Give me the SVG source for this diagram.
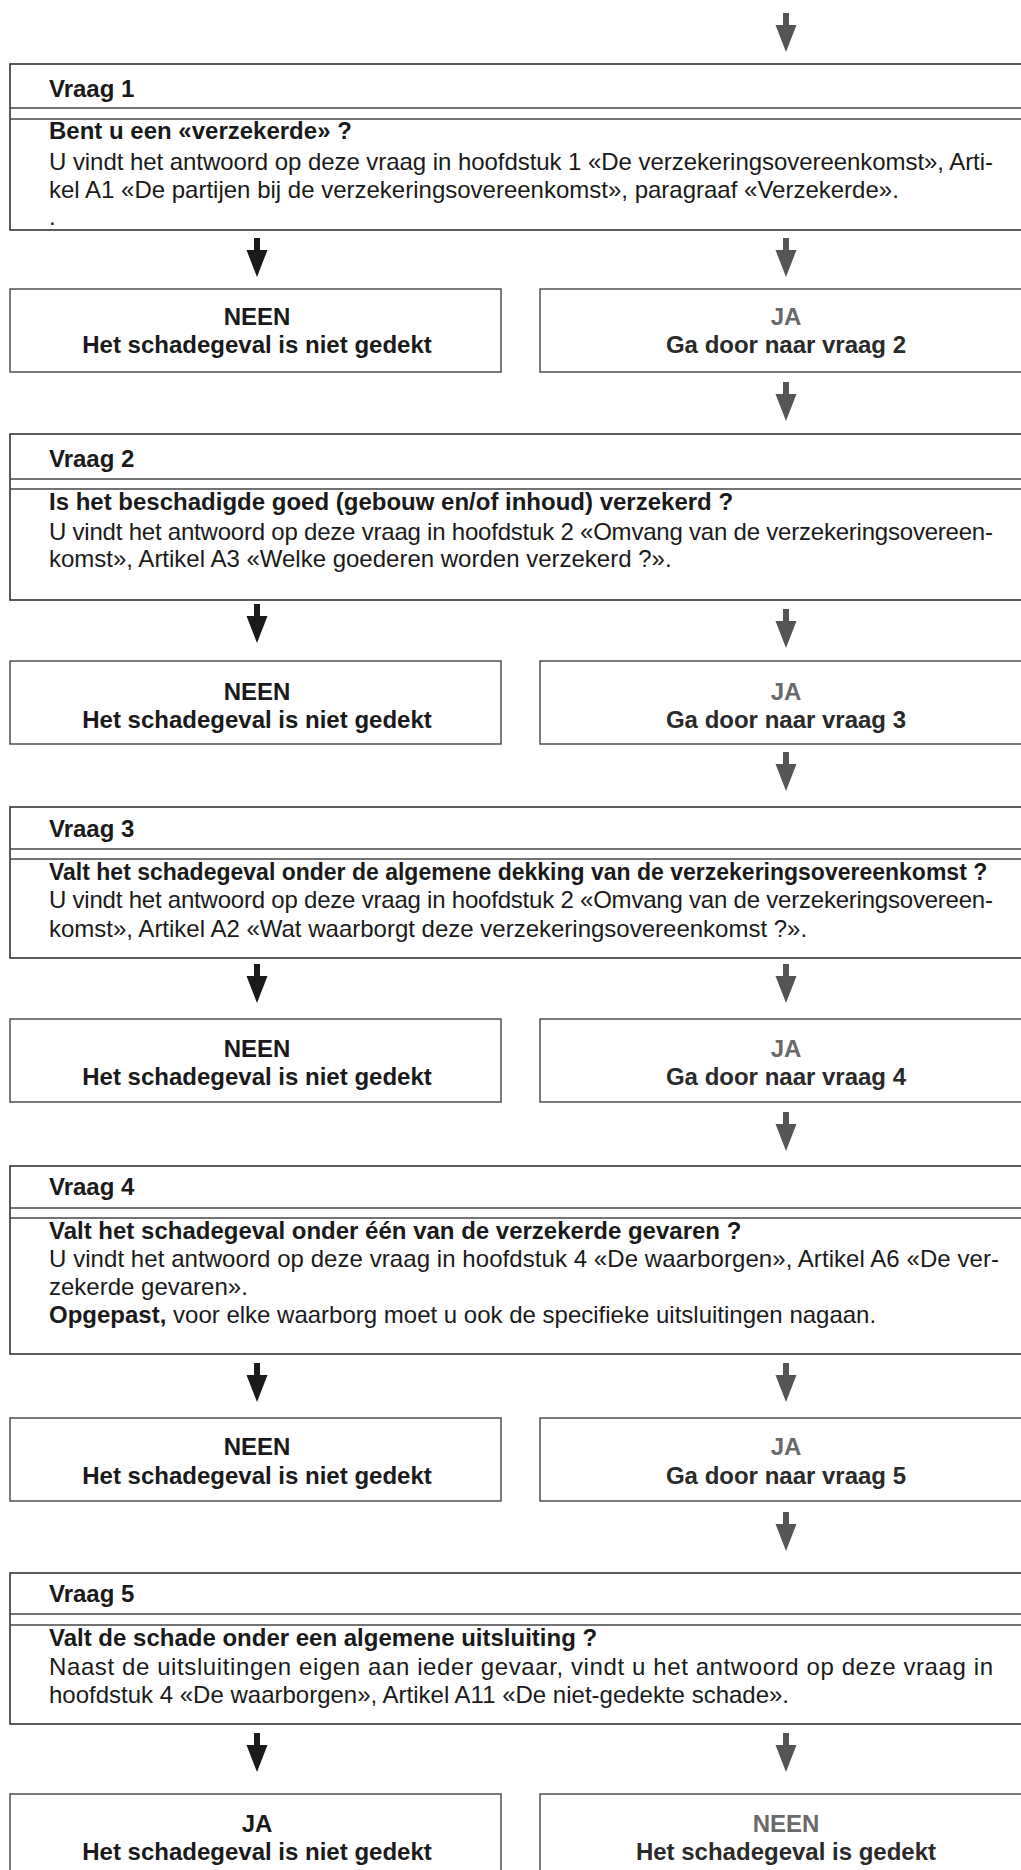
<svg xmlns="http://www.w3.org/2000/svg" xmlns:xlink="http://www.w3.org/1999/xlink" width="1021" height="1870" viewBox="0 0 1021 1870">
<style>
text{font-family:"Liberation Sans",Arial,sans-serif;font-size:24px;fill:#1a1a1a}
.b{font-weight:bold}
.c{text-anchor:middle}
.g{fill:#6a6a6a}
.d{fill:#2a2a2a}
.box{fill:#fff;stroke:#333;stroke-width:1.6}
.abox{fill:#fff;stroke:#444;stroke-width:1.4}
.div{stroke:#444;stroke-width:1.6}
.al{fill:#1a1a1a}
.ar{fill:#555}
</style>
<defs>
<path id="arr" d="M-3,0 h6 v12 h7.5 L0,39 L-10.5,12 h7.5 z"/>
</defs>
<rect width="1021" height="1870" fill="#fff"/>

<g id="connectors">
<use xlink:href="#arr" x="786" y="13" class="ar"/>
<use xlink:href="#arr" x="257" y="238" class="al"/>
<use xlink:href="#arr" x="786" y="238" class="ar"/>
<use xlink:href="#arr" x="786" y="382" class="ar"/>
<use xlink:href="#arr" x="257" y="604" class="al"/>
<use xlink:href="#arr" x="786" y="609" class="ar"/>
<use xlink:href="#arr" x="786" y="752" class="ar"/>
<use xlink:href="#arr" x="257" y="964" class="al"/>
<use xlink:href="#arr" x="786" y="964" class="ar"/>
<use xlink:href="#arr" x="786" y="1112" class="ar"/>
<use xlink:href="#arr" x="257" y="1363" class="al"/>
<use xlink:href="#arr" x="786" y="1363" class="ar"/>
<use xlink:href="#arr" x="786" y="1512" class="ar"/>
<use xlink:href="#arr" x="257" y="1733" class="al"/>
<use xlink:href="#arr" x="786" y="1733" class="ar"/>
</g>

<g id="vraag1">
<rect class="box" x="10" y="64" width="1030" height="166"/>
<line class="div" x1="10" y1="108" x2="1030" y2="108"/>
<line class="div" x1="10" y1="119" x2="1030" y2="119"/>
<text class="b" x="49" y="97">Vraag 1</text>
<text class="b" x="49" y="139">Bent u een «verzekerde» ?</text>
<text x="49" y="170" textLength="944" lengthAdjust="spacing">U vindt het antwoord op deze vraag in hoofdstuk 1 «De verzekeringsovereenkomst», Arti-</text>
<text x="49" y="198">kel A1 «De partijen bij de verzekeringsovereenkomst», paragraaf «Verzekerde».</text>
<text x="49" y="225">.</text>
</g>

<g id="neen1">
<rect class="abox" x="10" y="289" width="491" height="83"/>
<text class="b c" x="257" y="325">NEEN</text>
<text class="b c" x="257" y="353">Het schadegeval is niet gedekt</text>
</g>
<g id="ja1">
<rect class="abox" x="540" y="289" width="500" height="83"/>
<text class="b c g" x="786" y="325">JA</text>
<text class="b c d" x="786" y="353">Ga door naar vraag 2</text>
</g>

<g id="vraag2">
<rect class="box" x="10" y="434" width="1030" height="166"/>
<line class="div" x1="10" y1="479" x2="1030" y2="479"/>
<line class="div" x1="10" y1="489" x2="1030" y2="489"/>
<text class="b" x="49" y="467">Vraag 2</text>
<text class="b" x="49" y="510">Is het beschadigde goed (gebouw en/of inhoud) verzekerd ?</text>
<text x="49" y="540" textLength="944" lengthAdjust="spacing">U vindt het antwoord op deze vraag in hoofdstuk 2 «Omvang van de verzekeringsovereen-</text>
<text x="49" y="567">komst», Artikel A3 «Welke goederen worden verzekerd ?».</text>
</g>

<g id="neen2">
<rect class="abox" x="10" y="661" width="491" height="83"/>
<text class="b c" x="257" y="700">NEEN</text>
<text class="b c" x="257" y="728">Het schadegeval is niet gedekt</text>
</g>
<g id="ja2">
<rect class="abox" x="540" y="661" width="500" height="83"/>
<text class="b c g" x="786" y="700">JA</text>
<text class="b c d" x="786" y="728">Ga door naar vraag 3</text>
</g>

<g id="vraag3">
<rect class="box" x="10" y="807" width="1030" height="151"/>
<line class="div" x1="10" y1="849" x2="1030" y2="849"/>
<line class="div" x1="10" y1="859" x2="1030" y2="859"/>
<text class="b" x="49" y="837">Vraag 3</text>
<text class="b" x="49" y="880" style="font-size:23px">Valt het schadegeval onder de algemene dekking van de verzekeringsovereenkomst ?</text>
<text x="49" y="908" textLength="944" lengthAdjust="spacing">U vindt het antwoord op deze vraag in hoofdstuk 2 «Omvang van de verzekeringsovereen-</text>
<text x="49" y="937">komst», Artikel A2 «Wat waarborgt deze verzekeringsovereenkomst ?».</text>
</g>

<g id="neen3">
<rect class="abox" x="10" y="1019" width="491" height="83"/>
<text class="b c" x="257" y="1057">NEEN</text>
<text class="b c" x="257" y="1085">Het schadegeval is niet gedekt</text>
</g>
<g id="ja3">
<rect class="abox" x="540" y="1019" width="500" height="83"/>
<text class="b c g" x="786" y="1057">JA</text>
<text class="b c d" x="786" y="1085">Ga door naar vraag 4</text>
</g>

<g id="vraag4">
<rect class="box" x="10" y="1166" width="1030" height="188"/>
<line class="div" x1="10" y1="1208" x2="1030" y2="1208"/>
<line class="div" x1="10" y1="1218" x2="1030" y2="1218"/>
<text class="b" x="49" y="1195">Vraag 4</text>
<text class="b" x="49" y="1239">Valt het schadegeval onder één van de verzekerde gevaren ?</text>
<text x="49" y="1267" textLength="950" lengthAdjust="spacing">U vindt het antwoord op deze vraag in hoofdstuk 4 «De waarborgen», Artikel A6 «De ver-</text>
<text x="49" y="1295">zekerde gevaren».</text>
<text x="49" y="1323"><tspan class="b">Opgepast,</tspan> voor elke waarborg moet u ook de specifieke uitsluitingen nagaan.</text>
</g>

<g id="neen4">
<rect class="abox" x="10" y="1418" width="491" height="83"/>
<text class="b c" x="257" y="1455">NEEN</text>
<text class="b c" x="257" y="1484">Het schadegeval is niet gedekt</text>
</g>
<g id="ja4">
<rect class="abox" x="540" y="1418" width="500" height="83"/>
<text class="b c g" x="786" y="1455">JA</text>
<text class="b c d" x="786" y="1484">Ga door naar vraag 5</text>
</g>

<g id="vraag5">
<rect class="box" x="10" y="1573" width="1030" height="151"/>
<line class="div" x1="10" y1="1614" x2="1030" y2="1614"/>
<line class="div" x1="10" y1="1625" x2="1030" y2="1625"/>
<text class="b" x="49" y="1602">Vraag 5</text>
<text class="b" x="49" y="1646">Valt de schade onder een algemene uitsluiting ?</text>
<text x="49" y="1675" textLength="944" lengthAdjust="spacing">Naast de uitsluitingen eigen aan ieder gevaar, vindt u het antwoord op deze vraag in</text>
<text x="49" y="1703">hoofdstuk 4 «De waarborgen», Artikel A11 «De niet-gedekte schade».</text>
</g>

<g id="ja5">
<rect class="abox" x="10" y="1794" width="491" height="90"/>
<text class="b c" x="257" y="1832">JA</text>
<text class="b c" x="257" y="1860">Het schadegeval is niet gedekt</text>
</g>
<g id="neen5">
<rect class="abox" x="540" y="1794" width="500" height="90"/>
<text class="b c g" x="786" y="1832">NEEN</text>
<text class="b c d" x="786" y="1860">Het schadegeval is gedekt</text>
</g>
</svg>
